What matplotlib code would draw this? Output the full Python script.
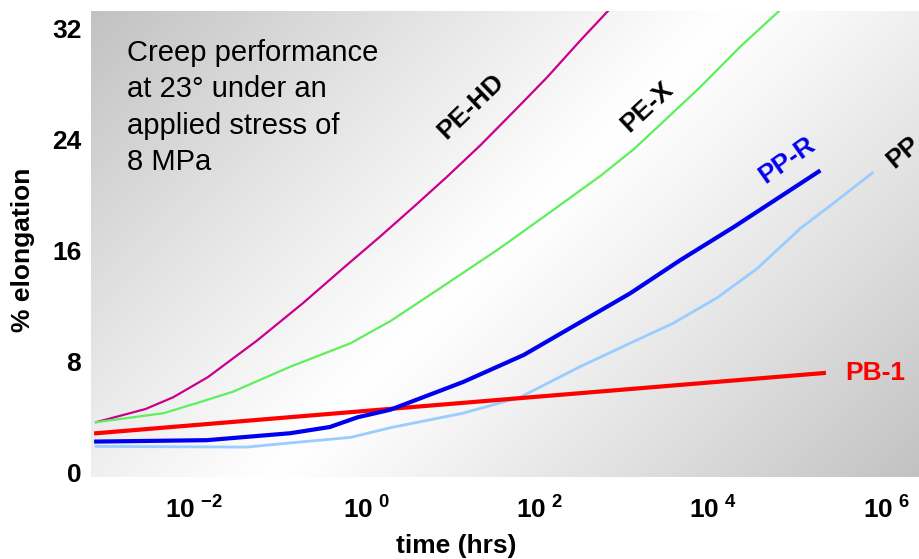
import numpy as np
import matplotlib
matplotlib.use("Agg")
import matplotlib.pyplot as plt
from matplotlib.ticker import FixedLocator, FuncFormatter

plt.rcParams['font.family'] = ['Liberation Sans', 'DejaVu Sans']
plt.rcParams['mathtext.fontset'] = 'custom'
plt.rcParams['mathtext.rm'] = 'Liberation Sans'
plt.rcParams['mathtext.bf'] = 'Liberation Sans:bold'

# log10(time in hrs) and % elongation
pehd_logt = [-3.13, -2.56, -2.24, -1.84, -1.27, -0.74, -0.28, 0.15, 0.53, 0.92, 1.31, 1.69, 2.08, 2.47, 2.8]
pehd_el = [3.6, 4.55, 5.4, 6.85, 9.5, 12.2, 14.7, 17.0, 19.1, 21.3, 23.6, 26.0, 28.5, 31.2, 33.4]

pex_logt = [-3.13, -2.35, -1.93, -1.55, -0.89, -0.19, 0.27, 0.85, 1.52, 2.08, 2.7, 3.08, 3.39, 3.85, 4.31, 4.78]
pex_el = [3.6, 4.25, 5.05, 5.8, 7.6, 9.3, 10.9, 13.3, 16.1, 18.6, 21.4, 23.3, 25.1, 27.8, 30.7, 33.4]

ppr_logt = [-3.13, -1.85, -0.89, -0.43, -0.11, 0.27, 1.11, 1.81, 2.46, 3.04, 3.62, 4.24, 5.22]
ppr_el = [2.2, 2.3, 2.8, 3.25, 3.95, 4.5, 6.5, 8.45, 10.8, 12.9, 15.3, 17.7, 21.7]

pp_logt = [-3.13, -1.39, -0.89, -0.19, 0.27, 1.11, 1.77, 2.46, 3.04, 3.54, 4.05, 4.51, 5.01, 5.44, 5.84]
pp_el = [1.85, 1.8, 2.1, 2.5, 3.2, 4.25, 5.4, 7.6, 9.3, 10.75, 12.6, 14.7, 17.6, 19.65, 21.6]

pb1_logt = [-3.13, 0.15, 5.28]
pb1_el = [2.8, 4.5, 7.15]

xticks = [1e-2, 1e0, 1e2, 1e4, 1e6]
yticks = [0, 8, 16, 24, 32]

fig = plt.figure(figsize=(9.19, 5.59), dpi=100)
ax = fig.add_axes([91 / 919, 1 - 477 / 559, 828 / 919, 466 / 559])

# diagonal gray -> white -> gray background
nx, ny = 400, 240
u = np.linspace(0, 1, nx)[None, :]
v = np.linspace(1, 0, ny)[:, None]
w_px, h_px = 828.0, 466.0
t = (u * w_px + (1 - v) * h_px) / (w_px + h_px)
g = 1 - 0.24 * np.abs(2 * t - 1) ** 1.1
ax.imshow(np.dstack([g, g, g]), extent=[0, 1, 0, 1], transform=ax.transAxes,
          aspect='auto', zorder=0, interpolation='bilinear')

ax.set_xscale('log')
ax.plot(10.0 ** np.array(pehd_logt), pehd_el, color='#C8008C', lw=1.6, zorder=3)
ax.plot(10.0 ** np.array(pex_logt), pex_el, color='#5CF05C', lw=1.6, zorder=3)
ax.plot(10.0 ** np.array(pp_logt), pp_el, color='#99CCFF', lw=2.0, zorder=3)
ax.plot(10.0 ** np.array(pb1_logt), pb1_el, color='#FF0000', lw=3.0, zorder=4)
ax.plot(10.0 ** np.array(ppr_logt), ppr_el, color='#0000F0', lw=3.0, zorder=5)

ax.set_xlim(10 ** -3.19, 10 ** 6.38)
ax.set_ylim(-0.36, 33.3)

ax.xaxis.set_major_locator(FixedLocator(xticks))
ax.xaxis.set_minor_locator(FixedLocator([]))
ax.xaxis.set_major_formatter(FuncFormatter(
    lambda x, p: r'$\mathbf{10}^{\ \mathbf{%d}}$' % int(round(np.log10(x)))))
ax.set_yticks(yticks)
ax.set_yticklabels([str(y) for y in yticks])
ax.tick_params(axis='both', length=0, labelsize=19)
ax.tick_params(axis='x', pad=13)
ax.tick_params(axis='y', pad=7)
for lab in ax.get_yticklabels():
    lab.set_fontweight('bold')
for s in ax.spines.values():
    s.set_visible(False)

ax.set_xlabel('time (hrs)', fontsize=19, fontweight='bold')
ax.xaxis.set_label_coords((456 - 91) / 828, (477 - 546) / 466)
ax.xaxis.label.set_va('center')
ax.set_ylabel('% elongation', fontsize=19, fontweight='bold')
ax.yaxis.set_label_coords((23 - 91) / 828, (477 - 250) / 466)
ax.yaxis.label.set_va('center')

ax.text(0.0435, 0.94, 'Creep performance\nat 23\u00b0 under an\napplied stress of\n8 MPa',
        transform=ax.transAxes, fontsize=21, va='top', ha='left', linespacing=1.38)

ax.text(10 ** 1.20, 26.4, 'PE-HD', rotation=44, fontsize=19, fontweight='bold',
        ha='center', va='center')
ax.text(10 ** 3.24, 26.4, 'PE-X', rotation=43, fontsize=19, fontweight='bold',
        ha='center', va='center')
ax.text(10 ** 4.85, 22.5, 'PP-R', rotation=35, fontsize=19, fontweight='bold',
        color='#0000F0', ha='center', va='center')
ax.text(10 ** 6.2, 23.1, 'PP', rotation=40, fontsize=19, fontweight='bold',
        ha='center', va='center', clip_on=True)
ax.text(10 ** 5.88, 7.15, 'PB-1', fontsize=19, fontweight='bold',
        color='#FF0000', ha='center', va='center')

fig.savefig('out.png', dpi=100)
